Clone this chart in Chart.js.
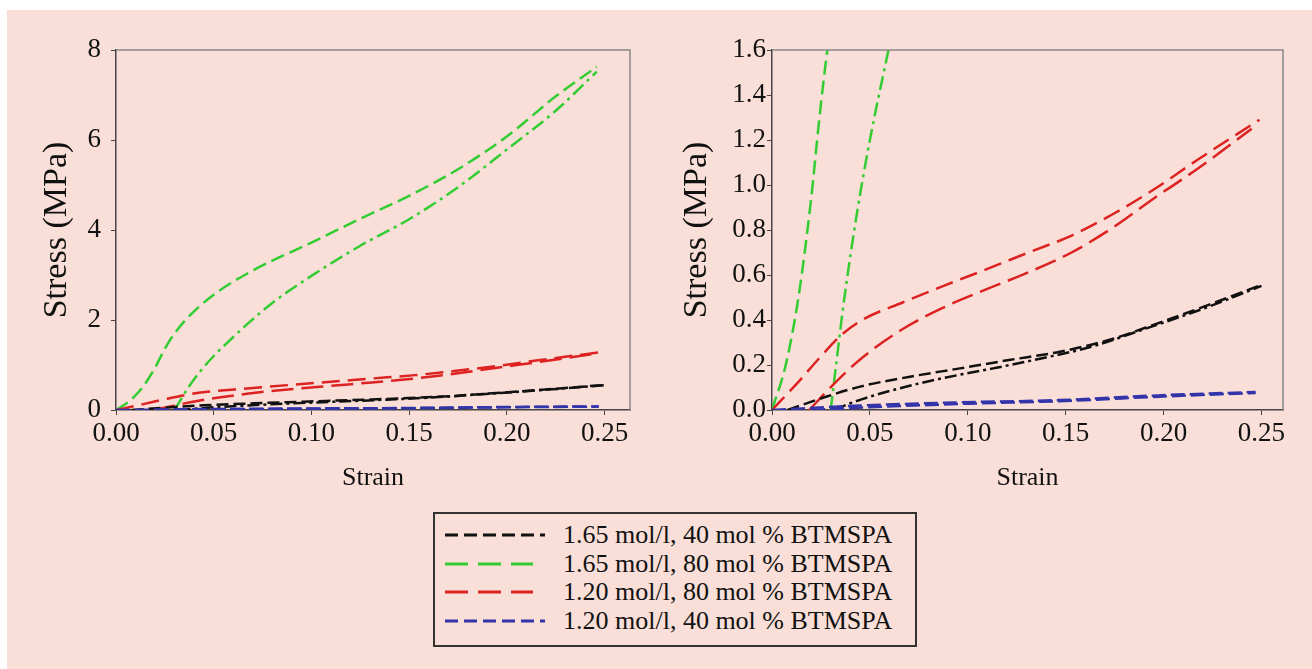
<!DOCTYPE html>
<html>
<head>
<meta charset="utf-8">
<script src="https://cdn.jsdelivr.net/npm/chart.js@4/dist/chart.umd.min.js"></script>
<style>
  html, body { margin: 0; padding: 0; background: #fff; }
  #page { position: absolute; left: 7px; top: 10px; width: 1305px; height: 659px; background: #f9dfd7; }
  .box { position: absolute; top: 0; height: 500px; }
  #leftBox { left: 0; width: 650px; }
  #rightBox { left: 656px; width: 656px; }
  #legend {
    position: absolute; left: 433px; top: 512px; width: 480px; height: 131px;
    border: 2px solid #333; box-sizing: content-box;
    font-family: "Liberation Serif", serif; font-size: 26px; color: #111;
  }
  .row { position: absolute; left: 0; height: 28px; line-height: 28px; white-space: nowrap; }
  .row svg { position: absolute; left: 8px; top: 7px; }
  .row span { position: absolute; left: 128px; top: 0; }
</style>
</head>
<body>
<div id="page"></div>
<div class="box" id="leftBox"><canvas id="leftChart"></canvas></div>
<div class="box" id="rightBox"><canvas id="rightChart"></canvas></div>
<div id="legend"></div>
<script>
// axis ticks
const strainTicks = [0, 0.05, 0.1, 0.15, 0.2, 0.25];
const stressTicksLeft = [0, 2, 4, 6, 8];
const stressTicksRight = [0, 0.2, 0.4, 0.6, 0.8, 1.0, 1.2, 1.4, 1.6];

// 1.65 mol/l, 40 mol % (black)
const blackLoadStrain = [0.008, 0.028, 0.045, 0.0705, 0.096, 0.121, 0.147, 0.172, 0.197, 0.223, 0.25];
const blackLoadStress = [0, 0.06, 0.104, 0.148, 0.185, 0.222, 0.259, 0.311, 0.385, 0.467, 0.556];
const blackReloadStrain = [0.032, 0.04, 0.062, 0.087, 0.113, 0.138, 0.163, 0.189, 0.223, 0.25];
const blackReloadStress = [0, 0.03, 0.089, 0.141, 0.185, 0.23, 0.281, 0.356, 0.459, 0.552];

// 1.65 mol/l, 80 mol % (green)
const greenLoadStrain = [0, 0.007, 0.0135, 0.02, 0.024, 0.028, 0.036, 0.05, 0.07, 0.1, 0.125, 0.15, 0.175, 0.2, 0.225, 0.246];
const greenLoadStress = [0, 0.2, 0.5, 0.94, 1.28, 1.58, 2.02, 2.56, 3.1, 3.72, 4.25, 4.76, 5.35, 6.08, 6.97, 7.63];
const greenReloadStrain = [0.03, 0.033, 0.037, 0.0435, 0.05, 0.0595, 0.069, 0.08, 0.1, 0.125, 0.15, 0.175, 0.2, 0.225, 0.246];
const greenReloadStress = [0, 0.22, 0.5, 0.88, 1.2, 1.6, 1.98, 2.38, 2.98, 3.65, 4.24, 4.95, 5.79, 6.65, 7.52];

// 1.20 mol/l, 80 mol % (red)
const redLoadStrain = [0, 0.0135, 0.024, 0.035, 0.0456, 0.067, 0.088, 0.11, 0.131, 0.153, 0.174, 0.195, 0.217, 0.249];
const redLoadStress = [0, 0.125, 0.229, 0.33, 0.398, 0.479, 0.553, 0.627, 0.70, 0.775, 0.87, 0.98, 1.11, 1.29];
const redReloadStrain = [0.019, 0.0327, 0.0456, 0.067, 0.088, 0.11, 0.131, 0.153, 0.174, 0.195, 0.217, 0.245];
const redReloadStress = [0, 0.125, 0.229, 0.361, 0.457, 0.538, 0.612, 0.70, 0.81, 0.94, 1.07, 1.25];

// 1.20 mol/l, 40 mol % (blue)
const blueLoadStrain = [0, 0.045, 0.096, 0.147, 0.197, 0.247];
const blueLoadStress = [0, 0.02, 0.034, 0.044, 0.065, 0.08];
const blueReloadStrain = [0.02, 0.05, 0.1, 0.15, 0.2, 0.247];
const blueReloadStress = [0, 0.012, 0.028, 0.04, 0.06, 0.076];

const legendLabels = [
  "1.65 mol/l, 40 mol % BTMSPA",
  "1.65 mol/l, 80 mol % BTMSPA",
  "1.20 mol/l, 80 mol % BTMSPA",
  "1.20 mol/l, 40 mol % BTMSPA",
];
const colors = ["#111111", "#33cc33", "#dd2222", "#3333aa"];

const serif = "'Liberation Serif', 'Times New Roman', serif";

function pts(xs, ys) {
  return xs.map((x, i) => ({ x: x, y: ys[i] }));
}

function line(xs, ys, color, dash) {
  return {
    data: pts(xs, ys),
    borderColor: color,
    borderWidth: 2.5,
    borderDash: dash,
    pointRadius: 0,
    fill: false,
    cubicInterpolationMode: "monotone",
  };
}

function allSets() {
  return [
    line(blueLoadStrain, blueLoadStress, colors[3], [14, 5]),
    line(blueReloadStrain, blueReloadStress, colors[3], [14, 5]),
    line(blackLoadStrain, blackLoadStress, colors[0], [12, 5]),
    line(blackReloadStrain, blackReloadStress, colors[0], [12, 4, 3, 4]),
    line(redLoadStrain, redLoadStress, colors[2], [18, 8]),
    line(redReloadStrain, redReloadStress, colors[2], [22, 8]),
    line(greenLoadStrain, greenLoadStress, colors[1], [14, 6]),
    line(greenReloadStrain, greenReloadStress, colors[1], [14, 5, 3, 5]),
  ];
}

// top and right edges of the plot frame
const frame = {
  id: "frame",
  afterDraw(chart) {
    const a = chart.chartArea, ctx = chart.ctx;
    ctx.save();
    ctx.strokeStyle = "#888";
    ctx.lineWidth = 1.5;
    ctx.beginPath();
    ctx.moveTo(a.left, a.top);
    ctx.lineTo(a.right, a.top);
    ctx.lineTo(a.right, a.bottom);
    ctx.stroke();
    ctx.restore();
  },
};

function makeChart(el, yTicks, yMax, xMax, decimals, opt) {
  return new Chart(document.getElementById(el), {
    type: "line",
    data: { datasets: allSets() },
    plugins: [frame],
    options: {
      responsive: true,
      maintainAspectRatio: false,
      animation: false,
      layout: { padding: { top: 50, right: opt.padRight, left: 0, bottom: 0 } },
      plugins: { legend: { display: false }, tooltip: { enabled: false } },
      scales: {
        x: {
          type: "linear",
          min: 0,
          max: xMax,
          afterBuildTicks: (s) => { s.ticks = strainTicks.map((v) => ({ value: v })); },
          afterFit: (s) => { s.height = 90; },
          ticks: {
            font: { family: serif, size: 27 },
            color: "#111",
            padding: 3,
            maxRotation: 0,
            callback: (v) => v.toFixed(2),
          },
          grid: { drawOnChartArea: false, drawTicks: true, tickLength: 5, color: "#444" },
          border: { color: "#444", width: 1.5 },
          title: {
            display: true,
            text: "Strain",
            font: { family: serif, size: 26 },
            color: "#111",
            padding: { top: 0, bottom: 6 },
          },
        },
        y: {
          min: 0,
          max: yMax,
          afterBuildTicks: (s) => { s.ticks = yTicks.map((v) => ({ value: v })); },
          afterFit: (s) => { s.width = 116; },
          ticks: {
            font: { family: serif, size: 27 },
            color: "#111",
            padding: opt.tickPad,
            callback: (v) => v.toFixed(decimals),
          },
          grid: { drawOnChartArea: false, drawTicks: true, tickLength: 5, color: "#444" },
          border: { color: "#444", width: 1.5 },
          title: {
            display: true,
            text: "Stress (MPa)",
            font: { family: serif, size: 34 },
            color: "#111",
            padding: { top: opt.titlePad, bottom: 0 },
          },
        },
      },
    },
  });
}

makeChart("leftChart", stressTicksLeft, 8, 0.263, 0, { padRight: 20, tickPad: 10, titlePad: 37 });
makeChart("rightChart", stressTicksRight, 1.6, 0.261, 1, { padRight: 29, tickPad: 1, titlePad: 21 });

// legend
const legendDash = [[13, 6], [23, 10], [23, 10], [13, 6]];
const legendLen = [102, 90, 90, 102];
const legend = document.getElementById("legend");
legendLabels.forEach((txt, i) => {
  const row = document.createElement("div");
  row.className = "row";
  row.style.top = (7 + i * 28.5) + "px";
  row.innerHTML =
    '<svg width="110" height="14"><line x1="2" y1="7" x2="' + legendLen[i] + '" y2="7" stroke="' + colors[i] +
    '" stroke-width="3" stroke-dasharray="' + legendDash[i].join(",") + '"/></svg><span>' + txt + "</span>";
  legend.appendChild(row);
});
</script>
</body>
</html>
